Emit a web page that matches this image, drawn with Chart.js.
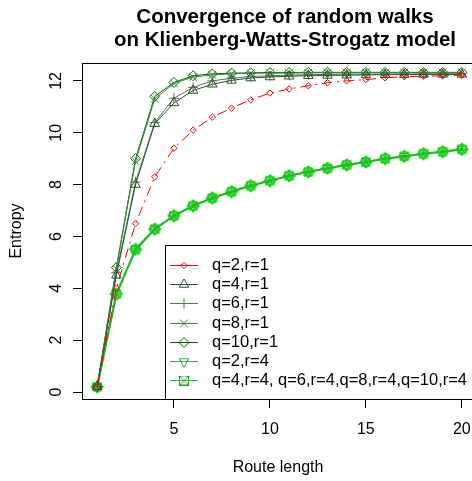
<!DOCTYPE html>
<html>
<head>
<meta charset="utf-8">
<title>Convergence of random walks</title>
<script src="https://cdn.jsdelivr.net/npm/chart.js@4.4.1/dist/chart.umd.min.js"></script>
<style>
  html, body { margin: 0; padding: 0; background: #fff; overflow: hidden; }
  #wrap { width: 472px; height: 481px; overflow: hidden; }
  canvas { display: block; }
</style>
</head>
<body>
<div id="wrap"><canvas id="entropy-chart" width="490" height="481"></canvas></div>
<script>
// Route length (x)
const routeLength = [1, 2, 3, 4, 5, 6, 7, 8, 9, 10, 11, 12, 13, 14, 15, 16, 17, 18, 19, 20];

// Entropy per series
const q2r1 = [0.2, 4.0, 6.5, 8.3, 9.4, 10.1, 10.6, 10.95, 11.27, 11.53, 11.69, 11.81, 11.93, 12.0, 12.05, 12.12, 12.16, 12.18, 12.2, 12.22];
const q4r1 = [0.2, 4.5, 8.0, 10.35, 11.15, 11.63, 11.87, 12.02, 12.11, 12.15, 12.18, 12.2, 12.21, 12.22, 12.23, 12.24, 12.24, 12.25, 12.25, 12.25];
const q6r1 = [0.2, 4.6, 8.1, 10.4, 11.33, 11.75, 12.0, 12.1, 12.17, 12.2, 12.22, 12.24, 12.25, 12.26, 12.26, 12.27, 12.27, 12.27, 12.28, 12.28];
const q8r1 = [0.2, 4.75, 8.9, 11.3, 11.9, 12.15, 12.23, 12.27, 12.29, 12.3, 12.3, 12.31, 12.31, 12.31, 12.32, 12.32, 12.32, 12.32, 12.32, 12.32];
const q10r1 = [0.2, 4.8, 9.0, 11.4, 11.94, 12.2, 12.27, 12.3, 12.31, 12.32, 12.32, 12.33, 12.33, 12.33, 12.33, 12.33, 12.33, 12.33, 12.33, 12.33];
const q2r4 = [0.2, 3.78, 5.5, 6.28, 6.8, 7.18, 7.48, 7.73, 7.96, 8.15, 8.34, 8.49, 8.63, 8.76, 8.87, 9.0, 9.09, 9.19, 9.27, 9.36];
const qAllr4 = [0.2, 3.78, 5.5, 6.28, 6.8, 7.18, 7.48, 7.73, 7.96, 8.15, 8.34, 8.49, 8.63, 8.76, 8.87, 9.0, 9.09, 9.19, 9.27, 9.36];

// Axis ticks and labels
const xTicks = [5, 10, 15, 20];
const yTicks = [0, 2, 4, 6, 8, 10, 12];
const titleLines = ['Convergence of random walks', 'on Klienberg-Watts-Strogatz model'];
const xTitle = 'Route length';
const yTitle = 'Entropy';

const FONT = '"Liberation Sans", Arial, sans-serif';

// square with an x inside (R pch 7)
function squareCross(color, size) {
    const c = document.createElement('canvas');
    c.width = size;
    c.height = size;
    const g = c.getContext('2d');
    g.strokeStyle = color;
    g.lineWidth = 1;
    g.strokeRect(0.5, 0.5, size - 1, size - 1);
    g.beginPath();
    g.moveTo(0.5, 0.5); g.lineTo(size - 0.5, size - 0.5);
    g.moveTo(size - 0.5, 0.5); g.lineTo(0.5, size - 0.5);
    g.stroke();
    return c;
}

// several r=4 markers stacked on one spot, as they overlap in the plot
function stackedMarks(color, size) {
    const c = document.createElement('canvas');
    c.width = size;
    c.height = size;
    const g = c.getContext('2d');
    const m = size / 2;
    g.strokeStyle = color;
    g.lineWidth = 1.2;
    g.strokeRect(m - 4, m - 4, 8, 8);
    g.beginPath();
    g.moveTo(m - 4, m - 4); g.lineTo(m + 4, m + 4);
    g.moveTo(m + 4, m - 4); g.lineTo(m - 4, m + 4);
    g.moveTo(m, m - 6); g.lineTo(m + 6, m); g.lineTo(m, m + 6); g.lineTo(m - 6, m); g.closePath();
    g.moveTo(m, m - 6); g.lineTo(m, m + 6);
    g.moveTo(m - 6, m); g.lineTo(m + 6, m);
    g.stroke();
    return c;
}

function series(label, values, color, style, radius, extra) {
    return Object.assign({
        label: label,
        data: routeLength.map((x, i) => ({ x: x, y: values[i] })),
        borderColor: color,
        borderWidth: 1,
        pointStyle: style,
        pointRadius: radius,
        pointRotation: 0,
        pointBorderColor: color,
        pointBackgroundColor: 'rgba(0,0,0,0)',
        pointBorderWidth: 1,
        tension: 0,
        fill: false
    }, extra || {});
}

const datasets = [
    series('q=2,r=1', q2r1, '#ff0000', 'rectRot', 3.2, { borderDash: [10, 5, 2, 5] }),
    series('q=4,r=1', q4r1, '#2f4f2f', 'triangle', 5.5),
    series('q=6,r=1', q6r1, '#4f7a4f', 'cross', 5),
    series('q=8,r=1', q8r1, '#3a8c3a', 'crossRot', 5.5),
    series('q=10,r=1', q10r1, '#006400', 'rectRot', 5),
    series('q=2,r=4', q2r4, '#33b033', 'triangle', 5.5, { pointRotation: 180, borderWidth: 1.5 }),
    series('q=4,r=4, q=6,r=4,q=8,r=4,q=10,r=4', qAllr4, '#00e000', stackedMarks('#00d800', 14), 5,
        { borderWidth: 2.2, legendMark: squareCross('#2aa02a', 10) })
];

// title, rotated y labels, box and the bottom-right legend, R style
const rPlotDecor = {
    id: 'rPlotDecor',
    afterDraw(chart) {
        const ctx = chart.ctx;
        const area = chart.chartArea;
        const yScale = chart.scales.y;
        ctx.save();

        ctx.strokeStyle = '#000';
        ctx.lineWidth = 1;
        ctx.setLineDash([]);
        ctx.strokeRect(Math.round(area.left) + 0.5, Math.round(area.top) + 0.5,
            Math.round(area.right - area.left), Math.round(area.bottom - area.top));

        ctx.fillStyle = '#000';
        ctx.textAlign = 'center';
        ctx.textBaseline = 'middle';
        ctx.font = 'bold 20.5px ' + FONT;
        titleLines.forEach((t, i) => ctx.fillText(t, 285, 17 + i * 23));

        ctx.font = '16px ' + FONT;
        ctx.fillText(xTitle, 278, 468);

        yTicks.forEach(v => {
            ctx.save();
            ctx.translate(57, yScale.getPixelForValue(v));
            ctx.rotate(-Math.PI / 2);
            ctx.fillText(String(v), 0, 0);
            ctx.restore();
        });
        ctx.save();
        ctx.translate(17, (area.top + area.bottom) / 2);
        ctx.rotate(-Math.PI / 2);
        ctx.fillText(yTitle, 0, 0);
        ctx.restore();

        // legend
        const lx = 165, ly = 245;
        ctx.fillStyle = '#fff';
        ctx.fillRect(lx, ly, area.right - lx, area.bottom - ly);
        ctx.strokeStyle = '#000';
        ctx.strokeRect(lx + 0.5, ly + 0.5, area.right - lx, area.bottom - ly);
        ctx.textAlign = 'left';
        ctx.font = '16.5px ' + FONT;
        chart.data.datasets.forEach((ds, i) => {
            const y = Math.round(265 + i * 19.2) + 0.5;
            ctx.strokeStyle = ds.borderColor;
            ctx.lineWidth = 1;
            ctx.setLineDash([]);
            ctx.beginPath();
            ctx.moveTo(170, y);
            ctx.lineTo(198, y);
            ctx.stroke();
            ctx.fillStyle = 'rgba(0,0,0,0)';
            Chart.helpers.drawPoint(ctx, {
                pointStyle: ds.legendMark || ds.pointStyle,
                radius: ds.pointRadius,
                rotation: ds.pointRotation,
                borderWidth: 1
            }, 184, y);
            ctx.fillStyle = '#000';
            ctx.fillText(ds.label, 212, y);
        });
        ctx.restore();
    }
};

new Chart(document.getElementById('entropy-chart'), {
    type: 'line',
    data: { datasets: datasets },
    options: {
        responsive: false,
        animation: false,
        events: [],
        layout: { padding: { left: 0, top: 63, right: 13, bottom: 0 } },
        plugins: { legend: { display: false }, tooltip: { enabled: false }, title: { display: false } },
        scales: {
            x: {
                type: 'linear',
                min: 0.21,
                max: 20.79,
                afterBuildTicks: s => { s.ticks = xTicks.map(v => ({ value: v })); },
                afterFit: s => { s.height = 82; },
                border: { display: false },
                grid: { drawOnChartArea: false, drawTicks: true, tickLength: 9, color: '#000' },
                ticks: { font: { family: FONT, size: 16 }, color: '#000', padding: 12, maxRotation: 0 }
            },
            y: {
                type: 'linear',
                min: -0.27,
                max: 12.69,
                afterBuildTicks: s => { s.ticks = yTicks.map(v => ({ value: v })); },
                afterFit: s => { s.width = 82; },
                border: { display: false },
                grid: { drawOnChartArea: false, drawTicks: true, tickLength: 9, color: '#000' },
                ticks: { font: { family: FONT, size: 16 }, color: 'rgba(0,0,0,0)' }
            }
        }
    },
    plugins: [rPlotDecor]
});
</script>
</body>
</html>
